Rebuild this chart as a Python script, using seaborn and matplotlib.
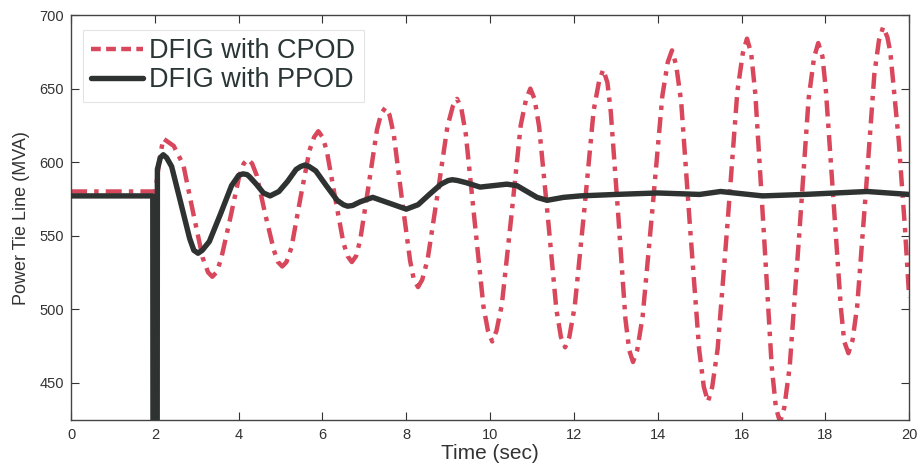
import numpy as np
import pandas as pd
import matplotlib
matplotlib.use("Agg")
import matplotlib.pyplot as plt
from matplotlib.lines import Line2D
import seaborn as sns

# DFIG with CPOD (red, dash-dot)
cpod_t = [0.0, 2.0, 2.02, 2.1, 2.2, 2.45, 2.68, 2.91, 3.14, 3.27, 3.37, 3.47,
          3.58, 3.80, 4.01, 4.12, 4.22, 4.32, 4.43, 4.63, 4.84, 4.94, 5.04, 5.14,
          5.26, 5.47, 5.69, 5.80, 5.90, 6.00, 6.10, 6.30, 6.50, 6.60, 6.70, 6.80,
          6.90, 7.10, 7.30, 7.40, 7.50, 7.60, 7.70, 7.89, 8.09, 8.18, 8.28, 8.38,
          8.51, 8.75, 8.98, 9.11, 9.21, 9.31, 9.42, 9.63, 9.84, 9.95, 10.05, 10.15,
          10.28, 10.51, 10.73, 10.86, 10.96, 11.06, 11.17, 11.38, 11.58, 11.69, 11.79, 11.89,
          12.02, 12.25, 12.47, 12.60, 12.70, 12.80, 12.88, 13.06, 13.23, 13.32, 13.41, 13.51,
          13.64, 13.88, 14.11, 14.24, 14.34, 14.44, 14.56, 14.77, 14.99, 15.10, 15.20, 15.30,
          15.43, 15.67, 15.90, 16.03, 16.13, 16.23, 16.33, 16.53, 16.72, 16.82, 16.92, 17.02,
          17.15, 17.38, 17.60, 17.73, 17.83, 17.93, 18.01, 18.19, 18.37, 18.45, 18.55, 18.65,
          18.76, 18.97, 19.17, 19.28, 19.38, 19.48, 19.55, 19.75, 19.90, 20.0]
cpod_v = [580, 580, 581, 600, 616, 611, 598, 566, 535, 525, 522, 525,
          534, 562, 590, 599, 602, 599, 591, 565, 540, 532, 529, 532,
          542, 575, 608, 617, 621, 617, 608, 576, 545, 536, 532, 536,
          547, 584, 622, 633, 637, 632, 619, 576, 533, 520, 515, 520,
          534, 579, 624, 638, 643, 637, 619, 560, 502, 485, 478, 485,
          503, 564, 625, 643, 650, 643, 624, 562, 500, 481, 474, 481,
          502, 568, 635, 655, 663, 654, 634, 563, 493, 472, 464, 472,
          495, 570, 645, 668, 676, 666, 641, 556, 472, 447, 437, 447,
          473, 560, 648, 674, 684, 674, 646, 553, 461, 433, 423, 433,
          461, 552, 643, 671, 681, 672, 650, 575, 501, 478, 470, 479,
          502, 581, 660, 683, 692, 685, 675, 615, 555, 508]

# DFIG with PPOD (black, solid)
ppod_t = [0.0, 1.95, 1.955, 2.055, 2.06, 2.13, 2.2, 2.28, 2.4, 2.62, 2.83, 2.93,
          3.03, 3.13, 3.3, 3.57, 3.83, 4.0, 4.1, 4.2, 4.26, 4.42, 4.59, 4.75,
          4.96, 5.17, 5.37, 5.48, 5.58, 5.68, 5.84, 6.09, 6.35, 6.5, 6.6, 6.72,
          6.9, 7.2, 7.6, 8.0, 8.28, 8.55, 8.83, 9.0, 9.1, 9.22, 9.43, 9.76,
          10.08, 10.4, 10.64, 10.88, 11.12, 11.36, 11.75, 12.15, 13.0, 14.0, 15.0, 15.5,
          16.5, 17.5, 19.0, 20.0]
ppod_v = [577, 577, 410, 410, 595, 603, 605, 603, 597, 572, 548, 540,
          538, 540, 546, 565, 584, 591, 592, 591.5, 590, 585, 579, 577,
          580, 587, 595, 597, 598, 597, 594, 584, 574, 571, 570, 570.5,
          573, 576, 572, 568, 571, 578, 585, 587.5, 588, 587.5, 586, 583,
          584, 585, 584, 580, 576, 574, 576, 577, 578, 579, 578, 580,
          577, 578, 580, 578]

x_ticks = [0, 2, 4, 6, 8, 10, 12, 14, 16, 18, 20]
y_ticks = [450, 500, 550, 600, 650, 700]
labels = ["DFIG with CPOD", "DFIG with PPOD"]

sns.set_style("white")
plt.rcParams["font.family"] = ["Liberation Sans", "DejaVu Sans"]

red = "#d8475b"
black = "#2e3231"
txt_col = "#333333"

fig = plt.figure(figsize=(9.23, 4.72), dpi=100)
ax = fig.add_axes([0.077, 0.110, 0.908, 0.858])

df_c = pd.DataFrame({"t": cpod_t, "v": cpod_v})
df_p = pd.DataFrame({"t": ppod_t, "v": ppod_v})

sns.lineplot(data=df_c, x="t", y="v", ax=ax, color=red, linewidth=3.2,
             sort=False, estimator=None, zorder=2)
ax.lines[-1].set_dashes((3.6, 1.6, 1.0, 1.6))
sns.lineplot(data=df_p, x="t", y="v", ax=ax, color=black, linewidth=3.9,
             sort=False, estimator=None, zorder=3)

ax.set_xlim(0, 20)
ax.set_ylim(424.5, 700)
ax.set_xticks(x_ticks)
ax.set_yticks(y_ticks)
ax.tick_params(axis="x", direction="in", top=True, bottom=True, length=6,
               labelsize=10.5, colors=txt_col, pad=6)
ax.tick_params(axis="y", direction="in", left=True, right=True, length=6,
               labelsize=10.5, colors=txt_col, pad=5)
for s in ax.spines.values():
    s.set_color("#444444")
    s.set_linewidth(1.0)

ax.set_xlabel("Time (sec)", fontsize=15, color=txt_col, labelpad=1)
ax.set_ylabel("Power Tie Line (MVA)", fontsize=13, color=txt_col, labelpad=7)

handles = [Line2D([0], [0], color=red, linewidth=3.2, linestyle=(0, (2.2, 1.2))),
           Line2D([0], [0], color=black, linewidth=3.9)]
leg = ax.legend(handles, labels, loc="upper left", bbox_to_anchor=(0.0143, 0.963),
                borderaxespad=0, fontsize=19.5, frameon=True, fancybox=False,
                handlelength=1.9, handletextpad=0.25, borderpad=0.3,
                labelspacing=0.12)
leg.get_frame().set_edgecolor("#dddddd")
leg.get_frame().set_linewidth(0.8)
for txt in leg.get_texts():
    txt.set_color("#2a3535")

fig.savefig("out.png", dpi=100)
